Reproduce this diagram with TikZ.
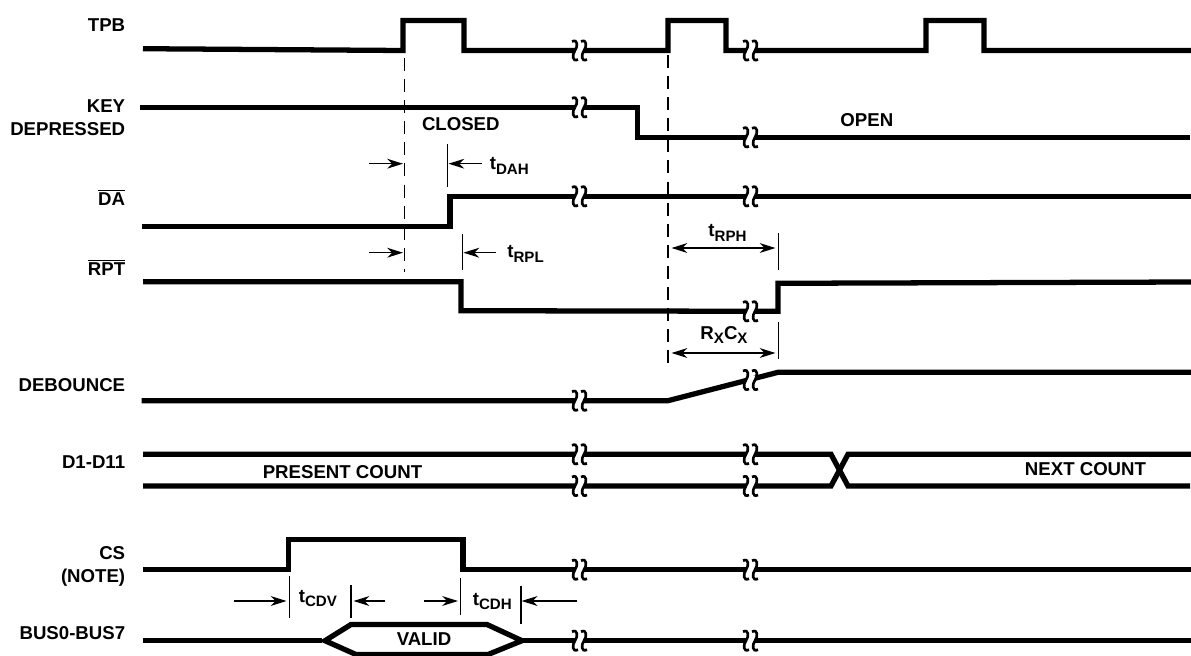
\documentclass[tikz,border=0pt]{standalone}
\usepackage{fontspec}
\setmainfont{Liberation Sans}
\usetikzlibrary{arrows.meta}
\tikzset{
	wave/.style={line width=3pt, line join=miter},
	thinline/.style={line width=0.7pt},
	dashline/.style={line width=0.7pt, dash pattern=on 7.4pt off 4.6pt},
	dimline/.style={line width=0.7pt, -{Stealth[length=9pt,width=5.6pt,inset=2.8pt]}},
	dimboth/.style={line width=0.7pt, {Stealth[length=9pt,width=5.6pt,inset=2.8pt]}-{Stealth[length=9pt,width=5.6pt,inset=2.8pt]}},
	sig/.style={anchor=east, inner sep=0pt, align=right, font=\bfseries\fontsize{10.6}{13.4}\selectfont},
	txt/.style={anchor=center, inner sep=0pt, font=\bfseries\fontsize{10.6}{12}\selectfont}
}
\def\wavebreak(#1,#2){\fill[white] (#1-4.5, #2-4) rectangle (#1+4.5, #2+4);
	\draw[line width=1.5pt] (#1-7.5, #2-9) .. controls (#1-1.5, #2-12) and (#1-1.5, #2-4) .. (#1-4.5, #2) .. controls (#1-7.5, #2+4) and (#1-7.5, #2+12) .. (#1-1.5, #2+9);
	\draw[line width=1.5pt] (#1+1.5, #2-9) .. controls (#1+7.5, #2-12) and (#1+7.5, #2-4) .. (#1+4.5, #2) .. controls (#1+1.5, #2+4) and (#1+1.5, #2+12) .. (#1+7.5, #2+9);}
\def\tsub#1{t\raisebox{-0.5ex}{\fontsize{8.6}{9}\selectfont #1}}

\begin{document}
\begin{tikzpicture}[x=0.02cm, y=-0.02cm]
		\useasboundingbox (0, 0) rectangle (1191, 656);
		%%%%% START %%%%%
		\draw[dashline] (404.5, 58) -- (404.5, 272);
		\draw[dashline] (668, 55) -- (668, 364);
		
		% signals
		\draw[wave] (143, 48.7) -- (403, 50.5) -- (403, 20.5) -- (464, 20.5) -- (464, 50.5) -- (668, 50.5) -- (668, 20.5) -- (726, 20.5) -- (726, 50.5) -- (926, 50.5) -- (926, 20.5) -- (984, 20.5) -- (984, 50.5) -- (1191, 50.5);
		\draw[wave] (140, 107.3) -- (637.5, 107.3) -- (637.5, 137.3) -- (1190, 137.3);
		\draw[wave] (141.5, 226.7) -- (450, 226.7) -- (450, 196.3) -- (1191, 196.3);
		\draw[wave] (143, 281.7) -- (461, 281.7) -- (461, 310.7) -- (778, 311.3) -- (778, 283.3) -- (1191, 282);
		\draw[wave] (141.5, 400.7) -- (668, 400.7) -- (778, 372.3) -- (1191, 372.3);
		\draw[wave] (143, 454.3) -- (831, 454.3) -- (848, 486) -- (1190, 486);
		\draw[wave] (143, 486) -- (831, 486) -- (848, 454.3) -- (1191, 454.3);
		\draw[wave] (143, 569.7) -- (288.5, 569.7) -- (288.5, 539.3) -- (463, 539.3) -- (463, 569.7) -- (1191, 569.7);
		\draw[wave] (143, 640.7) -- (322, 640.7);
		\draw[wave] (522, 640.7) -- (1191, 640.7);
		\draw[wave] (325, 640.7) -- (351, 624.5) -- (487, 624.5) -- (522, 640.7) -- (488, 654.5) -- (356, 654.5) -- cycle;
		
		% breaks
		\wavebreak(579.5, 50.5)
		\wavebreak(750.5, 50.5)
		\wavebreak(579.5, 107.3)
		\wavebreak(750.5, 137.3)
		\wavebreak(579.5, 196.3)
		\wavebreak(750.5, 196.3)
		\wavebreak(750.5, 311.3)
		\wavebreak(579.5, 400.7)
		\wavebreak(750.5, 380)
		\wavebreak(579.5, 454.3)
		\wavebreak(750.5, 454.3)
		\wavebreak(579.5, 486)
		\wavebreak(750.5, 486)
		\wavebreak(579.5, 569.7)
		\wavebreak(750.5, 569.7)
		\wavebreak(579.5, 640.7)
		\wavebreak(750.5, 640.7)
		
		% signal names
		\node[sig] (tpb) at (125.5, 25) {TPB};
		\node[sig] (key) at (125.5, 117.7) {KEY\\DEPRESSED};
		\node[sig] (da) at (125.5, 197.5) {$\overline{\hbox{DA}}$};
		\node[sig] (rpt) at (125.5, 267) {$\overline{\hbox{RPT}}$};
		\node[sig] (debounce) at (125.5, 385) {DEBOUNCE};
		\node[sig] (data) at (125.5, 461.7) {D1-D11};
		\node[sig] (cs) at (125.5, 566.5) {CS\\(NOTE)};
		\node[sig] (bus) at (125.5, 633) {BUS0-BUS7};
		
		\node[txt] (closed) at (460.8, 123.7) {CLOSED};
		\node[txt] (open) at (866.8, 120.3) {OPEN};
		\node[txt] (present) at (342.5, 471.7) {PRESENT COUNT};
		\node[txt] (next) at (1085.5, 469.3) {NEXT COUNT};
		\node[txt] (valid) at (424, 639) {VALID};
		
		% timing marks
		\coordinate (dah in) at (369, 163.7);
		\coordinate (dah a) at (403, 163.7);
		\coordinate (dah top) at (447.8, 144);
		\coordinate (dah bot) at (447.8, 186.7);
		\coordinate (dah b) at (448.5, 163.7);
		\coordinate (dah out) at (482, 163.7);
		\draw[dimline] (dah in) -- (dah a);
		\draw[thinline] (dah top) -- (dah bot);
		\draw[dimline] (dah out) -- (dah b);
		\node[txt, anchor=west] (tdah) at (489.5, 166) {\tsub{DAH}};
		
		\coordinate (rpl in) at (369, 252.7);
		\coordinate (rpl a) at (403, 252.7);
		\coordinate (rpl top) at (462.7, 234.3);
		\coordinate (rpl bot) at (462.7, 270);
		\coordinate (rpl b) at (463.4, 252.7);
		\coordinate (rpl out) at (496, 252.7);
		\draw[dimline] (rpl in) -- (rpl a);
		\draw[thinline] (rpl top) -- (rpl bot);
		\draw[dimline] (rpl out) -- (rpl b);
		\node[txt, anchor=west] (trpl) at (507, 254) {\tsub{RPL}};
		
		\coordinate (rph a) at (671.5, 248);
		\coordinate (rph b) at (775.5, 248);
		\coordinate (rph top) at (778.7, 233.3);
		\coordinate (rph bot) at (778.7, 270);
		\draw[dimboth] (rph a) -- (rph b);
		\draw[thinline] (rph top) -- (rph bot);
		\node[txt] (trph) at (727.5, 233) {\tsub{RPH}};
		
		\coordinate (rc a) at (671.5, 353);
		\coordinate (rc b) at (775.5, 353);
		\coordinate (rc top) at (778.7, 322);
		\coordinate (rc bot) at (778.7, 359);
		\draw[dimboth] (rc a) -- (rc b);
		\draw[thinline] (rc top) -- (rc bot);
		\node[txt] (rxcx) at (724, 335) {R\raisebox{-0.5ex}{\fontsize{8.6}{9}\selectfont X}C\raisebox{-0.5ex}{\fontsize{8.6}{9}\selectfont X}};
		
		\coordinate (cdv in) at (234, 601);
		\coordinate (cdv a) at (286.5, 601);
		\coordinate (cdv top) at (289.3, 576);
		\coordinate (cdv bot) at (289.3, 618.3);
		\coordinate (cdv2 top) at (351, 585);
		\coordinate (cdv2 bot) at (351, 618.3);
		\coordinate (cdv b) at (353.5, 601);
		\coordinate (cdv out) at (384.5, 601);
		\draw[dimline] (cdv in) -- (cdv a);
		\draw[thinline] (cdv top) -- (cdv bot);
		\draw[thinline] (cdv2 top) -- (cdv2 bot);
		\draw[dimline] (cdv out) -- (cdv b);
		\node[txt, anchor=west] (tcdv) at (298.5, 598.5) {\tsub{CDV}};
		
		\coordinate (cdh in) at (424, 601);
		\coordinate (cdh a) at (458, 601);
		\coordinate (cdh top) at (460.8, 578);
		\coordinate (cdh bot) at (460.8, 615);
		\coordinate (cdh2 top) at (520.9, 586);
		\coordinate (cdh2 bot) at (520.9, 624);
		\coordinate (cdh b) at (521.6, 601);
		\coordinate (cdh out) at (577, 601);
		\draw[dimline] (cdh in) -- (cdh a);
		\draw[thinline] (cdh top) -- (cdh bot);
		\draw[thinline] (cdh2 top) -- (cdh2 bot);
		\draw[dimline] (cdh out) -- (cdh b);
		\node[txt, anchor=west] (tcdh) at (472.5, 601.5) {\tsub{CDH}};
		%%%%% END %%%%%
	\end{tikzpicture}
\end{document}
